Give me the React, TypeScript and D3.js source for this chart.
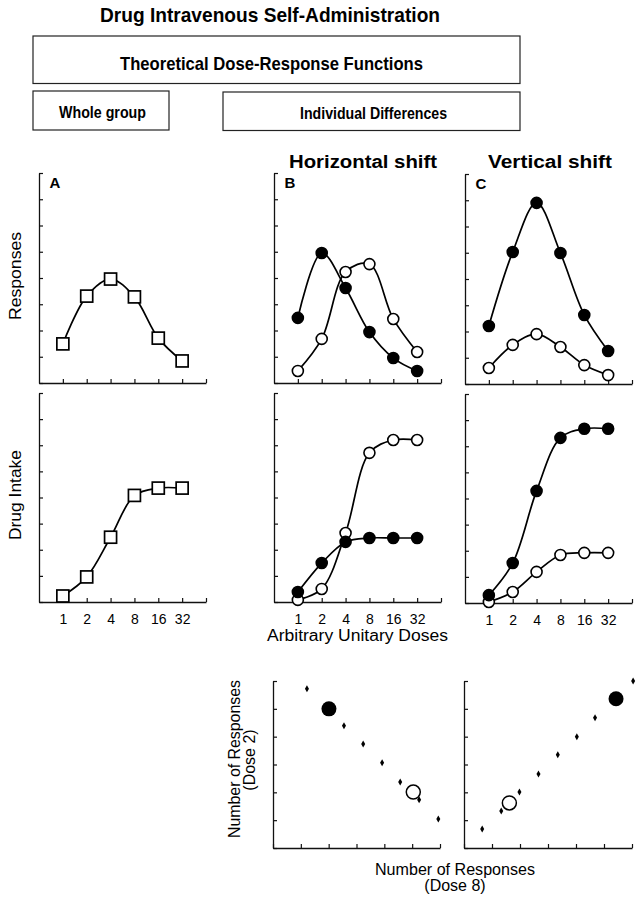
import React, { useEffect, useRef } from "react";
import * as d3 from "d3";

// ---------- data ----------
const doses = [1, 2, 4, 8, 16, 32];
const doseTicks = [1, 2, 4, 8, 16, 32, 64];
const doseLabels = ["1", "2", "4", "8", "16", "32", ""];
const responseTicks = [0, 1, 2, 3, 4, 5, 6, 7, 8];
const scatterTicks = [0, 1, 2, 3, 4, 5, 6];

// Panel A (whole group)
const groupResponses = [1.49, 3.31, 3.96, 3.28, 1.71, 0.84];
const groupIntake = [0.23, 0.96, 2.48, 4.08, 4.36, 4.36];

// Panel B (horizontal shift)
const hRespFilled = [2.48, 4.95, 3.62, 1.94, 0.95, 0.46];
const hRespOpen = [0.46, 1.68, 4.23, 4.53, 2.44, 1.18];
const hIntakeFilled = [0.38, 1.49, 2.3, 2.45, 2.45, 2.45];
const hIntakeOpen = [0.08, 0.5, 2.64, 5.71, 6.2, 6.2];

// Panel C (vertical shift)
const vRespFilled = [2.21, 5.03, 6.9, 4.99, 2.63, 1.26];
const vRespOpen = [0.61, 1.49, 1.9, 1.41, 0.72, 0.34];
const vIntakeFilled = [0.3, 1.53, 4.29, 6.32, 6.67, 6.67];
const vIntakeOpen = [0.04, 0.42, 1.19, 1.84, 1.92, 1.92];

// Scatter (Dose 8 vs Dose 2)
const leftDotsX = [1.22, 2.55, 3.24, 3.92, 4.57, 5.25, 5.94];
const leftDotsY = [5.72, 4.39, 3.74, 3.06, 2.37, 1.73, 1.04];
const leftFilled = [2.01, 5.0];
const leftOpen = [5.04, 2.01];
const rightDotsX = [0.65, 1.33, 1.98, 2.66, 3.35, 4.03, 4.68, 6.04];
const rightDotsY = [0.68, 1.33, 2.01, 2.66, 3.35, 4.0, 4.68, 6.0];
const rightFilled = [5.43, 5.36];
const rightOpen = [1.62, 1.62];

const FONT = "'Liberation Sans', Arial, Helvetica, sans-serif";

type Series = { values: number[]; kind: "square" | "filled" | "open" };

export default function App() {
  const ref = useRef<SVGSVGElement | null>(null);

  useEffect(() => {
    const svg = d3.select(ref.current);
    svg.selectAll("*").remove();

    const text = (
      x: number,
      y: number,
      s: string,
      size: number,
      weight: string,
      len?: number,
      rotate?: boolean
    ) => {
      const t = svg
        .append("text")
        .attr("x", rotate ? 0 : x)
        .attr("y", rotate ? 0 : y)
        .attr("text-anchor", "middle")
        .attr("font-family", FONT)
        .attr("font-size", size)
        .attr("font-weight", weight)
        .attr("fill", "#000")
        .text(s);
      if (rotate) t.attr("transform", `translate(${x},${y}) rotate(-90)`);
      if (len) t.attr("textLength", len).attr("lengthAdjust", "spacingAndGlyphs");
      return t;
    };

    const box = (x: number, y: number, w: number, h: number) =>
      svg
        .append("rect")
        .attr("x", x)
        .attr("y", y)
        .attr("width", w)
        .attr("height", h)
        .attr("fill", "none")
        .attr("stroke", "#222")
        .attr("stroke-width", 1.2);

    // ---------- headers ----------
    text(270, 22, "Drug Intravenous Self-Administration", 20.5, "bold", 340);
    box(33, 36, 487, 47.5);
    text(271.5, 69.5, "Theoretical Dose-Response Functions", 19, "bold", 303);
    box(33, 91, 136, 39);
    text(102.5, 117.5, "Whole group", 16, "bold", 87);
    box(223, 92, 297, 38.5);
    text(373.5, 118.5, "Individual Differences", 16.5, "bold", 147);
    text(363, 167.5, "Horizontal shift", 18, "bold", 148);
    text(550, 168, "Vertical shift", 18, "bold", 124);

    const styleAxis = (g: any) => {
      g.attr("font-family", FONT).attr("font-size", 14);
      g.selectAll(".domain").attr("stroke", "#111").attr("stroke-width", 1.3);
      g.selectAll("line").attr("stroke", "#111").attr("stroke-width", 1.2);
      g.selectAll("text").attr("fill", "#000");
    };

    // ---------- dose-response panels ----------
    const panel = (
      x0: number,
      x1: number,
      yTop: number,
      yBot: number,
      labels: boolean,
      series: Series[],
      letter?: string
    ) => {
      const x = d3.scaleLog().base(2).domain([0.5, 64]).range([x0, x1]);
      const y = d3.scaleLinear().domain([0, 8]).range([yBot, yTop]);
      const g = svg.append("g");
      const ax = d3
        .axisBottom(x)
        .tickValues(doseTicks)
        .tickSize(-4)
        .tickSizeOuter(0)
        .tickPadding(12)
        .tickFormat((_d: any, i: number) => (labels ? doseLabels[i] : ""));
      styleAxis(g.append("g").attr("transform", `translate(0,${yBot})`).call(ax as any));
      const ay = d3
        .axisLeft(y)
        .tickValues(responseTicks)
        .tickSize(-4)
        .tickSizeOuter(0)
        .tickFormat(() => "");
      styleAxis(g.append("g").attr("transform", `translate(${x0},0)`).call(ay as any));

      const line = d3
        .line<number>()
        .x((_d, i) => x(doses[i]))
        .y((d) => y(d))
        .curve(d3.curveCatmullRom.alpha(0.5));
      series.forEach((s) => {
        g.append("path")
          .attr("d", line(s.values))
          .attr("fill", "none")
          .attr("stroke", "#000")
          .attr("stroke-width", 1.7);
      });
      series.forEach((s) => {
        s.values.forEach((v, i) => {
          const cx = x(doses[i]);
          const cy = y(v);
          if (s.kind === "square") {
            g.append("rect")
              .attr("x", cx - 6)
              .attr("y", cy - 6)
              .attr("width", 12)
              .attr("height", 12)
              .attr("fill", "#fff")
              .attr("stroke", "#000")
              .attr("stroke-width", 1.7);
          } else {
            g.append("circle")
              .attr("cx", cx)
              .attr("cy", cy)
              .attr("r", 5.5)
              .attr("fill", s.kind === "filled" ? "#000" : "#fff")
              .attr("stroke", "#000")
              .attr("stroke-width", 1.6);
          }
        });
      });
      if (letter) text(x0 + 16, yTop + 14.5, letter, 15, "bold").attr("text-anchor", "middle");
    };

    panel(39, 206, 173, 383, false, [{ values: groupResponses, kind: "square" }], "A");
    panel(39, 206, 393, 602, true, [{ values: groupIntake, kind: "square" }]);
    panel(274, 441, 173, 383, false, [
      { values: hRespOpen, kind: "open" },
      { values: hRespFilled, kind: "filled" },
    ], "B");
    panel(274, 441, 393, 602, true, [
      { values: hIntakeOpen, kind: "open" },
      { values: hIntakeFilled, kind: "filled" },
    ]);
    panel(465, 632, 174, 384, false, [
      { values: vRespOpen, kind: "open" },
      { values: vRespFilled, kind: "filled" },
    ], "C");
    panel(465, 632, 394, 603, true, [
      { values: vIntakeOpen, kind: "open" },
      { values: vIntakeFilled, kind: "filled" },
    ]);

    // y labels
    text(21, 276, "Responses", 17, "normal", 88, true);
    text(21, 495, "Drug Intake", 17, "normal", 90, true);
    text(357.5, 641, "Arbitrary Unitary Doses", 16, "normal", 181);

    // ---------- scatter panels ----------
    const scatter = (
      x0: number,
      x1: number,
      dotsX: number[],
      dotsY: number[],
      filled: number[],
      open: number[]
    ) => {
      const x = d3.scaleLinear().domain([0, 6]).range([x0, x1]);
      const y = d3.scaleLinear().domain([0, 6]).range([848, 681]);
      const g = svg.append("g");
      const ax = d3.axisBottom(x).tickValues(scatterTicks).tickSize(-4).tickSizeOuter(0).tickFormat(() => "");
      styleAxis(g.append("g").attr("transform", `translate(0,848)`).call(ax as any));
      const ay = d3.axisLeft(y).tickValues(scatterTicks).tickSize(-4).tickSizeOuter(0).tickFormat(() => "");
      styleAxis(g.append("g").attr("transform", `translate(${x0},0)`).call(ay as any));

      g.append("circle")
        .attr("cx", x(filled[0]))
        .attr("cy", y(filled[1]))
        .attr("r", 7.5)
        .attr("fill", "#000");
      g.append("circle")
        .attr("cx", x(open[0]))
        .attr("cy", y(open[1]))
        .attr("r", 7)
        .attr("fill", "#fff")
        .attr("stroke", "#000")
        .attr("stroke-width", 1.5);
      const sym = d3.symbol().type(d3.symbolDiamond).size(14);
      dotsX.forEach((dx, i) => {
        g.append("path")
          .attr("d", sym() as string)
          .attr("transform", `translate(${x(dx)},${y(dotsY[i])})`)
          .attr("fill", "#000");
      });
    };

    scatter(273, 440, leftDotsX, leftDotsY, leftFilled, leftOpen);
    scatter(464, 632, rightDotsX, rightDotsY, rightFilled, rightOpen);

    text(239.5, 759, "Number of Responses", 16, "normal", 158, true);
    text(255, 760, "(Dose 2)", 16, "normal", undefined, true);
    text(455, 875, "Number of Responses", 16, "normal", 160);
    text(455, 891, "(Dose 8)", 16, "normal");
  }, []);

  return (
    <svg
      ref={ref}
      width={642}
      height={900}
      style={{ position: "absolute", left: 0, top: 0, background: "#fff" }}
    />
  );
}
